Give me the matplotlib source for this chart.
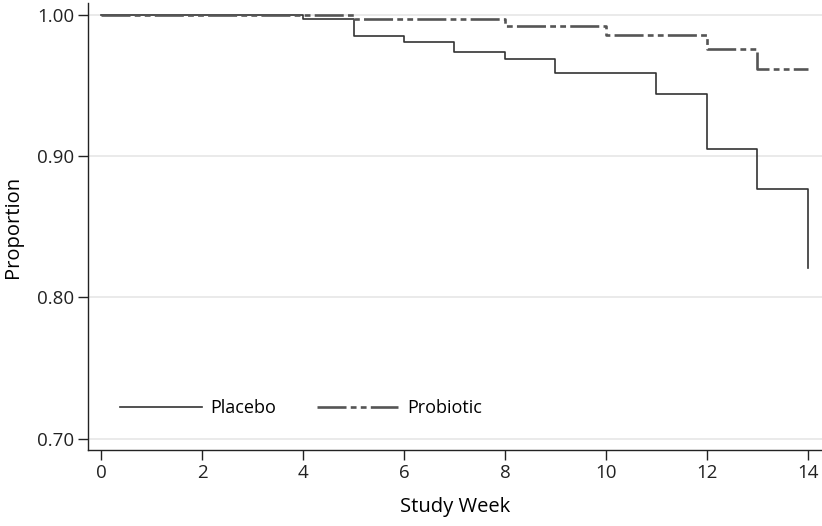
import numpy as np
import matplotlib.pyplot as plt

# Kaplan-Meier style step data
placebo_weeks = [0, 4, 5, 6, 7, 8, 9, 11, 12, 13, 14]
placebo_prop = [1.000, 0.997, 0.985, 0.981, 0.974, 0.969, 0.959, 0.944, 0.905, 0.877, 0.821]

probiotic_weeks = [0, 5, 8, 10, 12, 13, 14]
probiotic_prop = [1.000, 0.997, 0.992, 0.986, 0.976, 0.962, 0.962]

xticks = [0, 2, 4, 6, 8, 10, 12, 14]
yticks = [0.70, 0.80, 0.90, 1.00]

plt.rcParams['font.family'] = ['Open Sans', 'DejaVu Sans']

fig = plt.figure(figsize=(8.22, 5.26), dpi=100)
ax = fig.add_axes([0.107, 0.1445, 0.893, 0.85])

for y in yticks:
    ax.axhline(y, color='#e6e6e6', lw=1.2, zorder=0)

ax.plot(placebo_weeks, placebo_prop, drawstyle='steps-post', color='#333333', lw=1.2, label='Placebo')
ax.plot(probiotic_weeks, probiotic_prop, drawstyle='steps-post', color='#555555', lw=1.9,
        linestyle=(0, (11, 1.6, 2.2, 1.6, 2.2, 1.6)), label='Probiotic')

ax.set_xlim(-0.26, 14.28)
ax.set_ylim(0.692, 1.0085)
ax.set_xticks(xticks)
ax.set_yticks(yticks)
ax.set_yticklabels(['%.2f' % v for v in yticks])
ax.tick_params(labelsize=13.5, length=7, width=1, colors='#222222', pad=3)

for s in ['top', 'right']:
    ax.spines[s].set_visible(False)
for s in ['left', 'bottom']:
    ax.spines[s].set_linewidth(1.0)
    ax.spines[s].set_color('#222222')

ax.set_xlabel('Study Week', fontsize=14.5, labelpad=11)
ax.set_ylabel('Proportion', fontsize=14.5, labelpad=10)

leg = ax.legend(loc='center left', bbox_to_anchor=(0.044, 0.094), ncol=2, frameon=False,
                fontsize=13, handlelength=4.5, columnspacing=2.25, handletextpad=0.5,
                borderpad=0, borderaxespad=0)

fig.savefig('out.png', dpi=100)
